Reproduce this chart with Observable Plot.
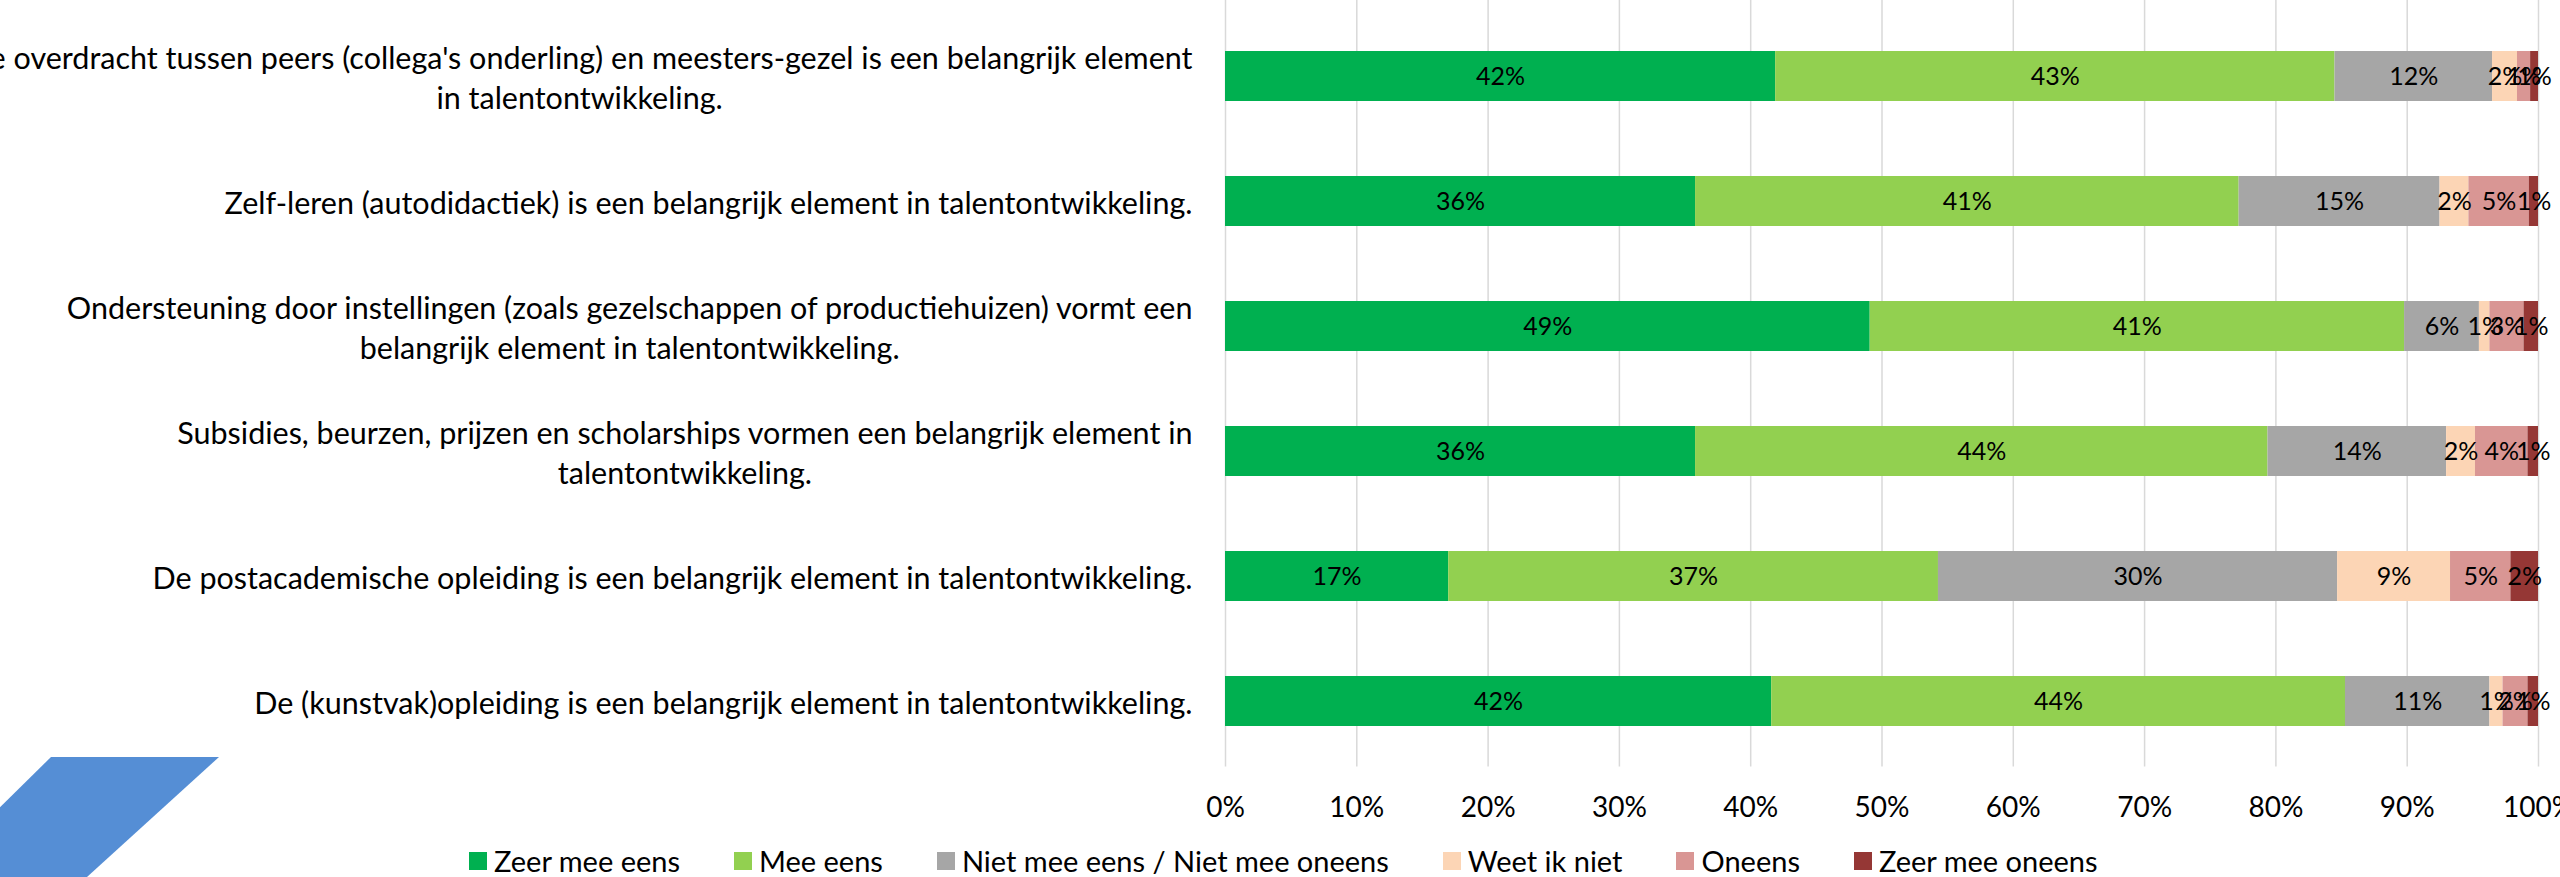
<!DOCTYPE html>
<html><head><meta charset="utf-8">
<script src="https://cdn.jsdelivr.net/npm/d3@7"></script>
<script src="https://cdn.jsdelivr.net/npm/@observablehq/plot@0.6"></script>
<style>
body{margin:0;background:#fff;width:2560px;height:877px;overflow:hidden;position:relative;font-family:Lato,"Open Sans",sans-serif;}
#chart{position:absolute;left:0;top:0;}
#deco{position:absolute;left:0;top:757px;width:260px;height:120px;background:#558ed5;clip-path:polygon(51px 0,219px 0,87px 120px,-71px 120px);}
#legend{position:absolute;left:469px;top:843px;display:flex;align-items:center;font-size:29px;color:#000;white-space:nowrap;}
#legend .item{display:flex;align-items:center;margin-right:54px;}
#legend .sw{width:18px;height:18px;margin-right:7px;}
</style></head>
<body>
<div id="chart"></div>
<div id="deco"></div>
<div id="legend"></div>
<script>
const rowLabels = [
  "De overdracht tussen peers (collega's onderling) en meesters-gezel is een belangrijk element\nin talentontwikkeling.",
  "Zelf-leren (autodidactiek) is een belangrijk element in talentontwikkeling.",
  "Ondersteuning door instellingen (zoals gezelschappen of productiehuizen) vormt een\nbelangrijk element in talentontwikkeling.",
  "Subsidies, beurzen, prijzen en scholarships vormen een belangrijk element in\ntalentontwikkeling.",
  "De postacademische opleiding is een belangrijk element in talentontwikkeling.",
  "De (kunstvak)opleiding is een belangrijk element in talentontwikkeling."
];
const categories = ["Zeer mee eens","Mee eens","Niet mee eens / Niet mee oneens","Weet ik niet","Oneens","Zeer mee oneens"];
const colors = ["#00b050","#92d050","#a6a6a6","#fcd5b5","#d99694","#953735"];
const zeerMeeEens   = [41.9, 35.8, 49.1, 35.8, 17.0, 41.6];
const meeEens       = [42.6, 41.4, 40.7, 43.6, 37.3, 43.7];
const neutraal      = [12.0, 15.3,  5.7, 13.6, 30.4, 11.0];
const weetIkNiet    = [ 1.9,  2.2,  0.8,  2.2,  8.6,  1.0];
const oneens        = [ 1.0,  4.6,  2.6,  4.0,  4.6,  1.9];
const zeerMeeOneens = [ 0.6,  0.7,  1.1,  0.8,  2.1,  0.8];
const xTicks = [0,10,20,30,40,50,60,70,80,90,100];

const series = [zeerMeeEens, meeEens, neutraal, weetIkNiet, oneens, zeerMeeOneens];
const data = [];
rowLabels.forEach((r, i) => categories.forEach((c, j) => data.push({row: r, cat: c, value: series[j][i]})));

const font = "Lato, 'Open Sans', sans-serif";
const fmt = d => d + "%";
const chart = Plot.plot({
  width: 2560, height: 835,
  marginLeft: 1225, marginRight: 22, marginTop: 0, marginBottom: 68.5,
  style: {fontFamily: font, fontSize: "28px", color: "#000", background: "#fff", overflow: "visible"},
  x: {domain: [0, 100], ticks: xTicks, tickFormat: fmt},
  y: {domain: rowLabels, paddingInner: 0.6, paddingOuter: 0.3417, align: 0.56},
  color: {domain: categories, range: colors},
  marks: [
    Plot.gridX(xTicks, {stroke: "#d9d9d9", strokeOpacity: 1, strokeWidth: 1.5}),
    Plot.barX(data, Plot.stackX({x: "value", y: "row", fill: "cat", order: categories})),
    Plot.text(data, Plot.stackX({x: "value", y: "row", z: "cat", order: categories, text: d => Math.round(d.value) + "%", fill: "#000", fontSize: 25})),
    Plot.axisX({ticks: xTicks, tickFormat: fmt, tickSize: 0, tickPadding: 30, fontSize: 28, fill: "#000", label: null}),
    Plot.axisY({tickSize: 0, tickPadding: 33, fontSize: 30.5, lineHeight: 1.31, textAnchor: "end", fill: "#000", label: null})
  ]
});
document.getElementById("chart").appendChild(chart);

// centre the lines of each multi-line y label inside its right-aligned block
chart.querySelectorAll('g[aria-label="y-axis tick label"] text').forEach(t => {
  const spans = t.querySelectorAll("tspan");
  if (spans.length < 2) return;
  let m = 0;
  spans.forEach(s => { m = Math.max(m, s.getComputedTextLength()); });
  t.setAttribute("text-anchor", "middle");
  const base = +(spans[0].getAttribute("x") || 0);
  spans.forEach(s => s.setAttribute("x", base - m / 2));
});

const lg = d3.select("#legend");
categories.forEach((c, i) => {
  const it = lg.append("div").attr("class", "item");
  it.append("div").attr("class", "sw").style("background", colors[i]);
  it.append("span").text(c);
});
</script>
</body></html>
